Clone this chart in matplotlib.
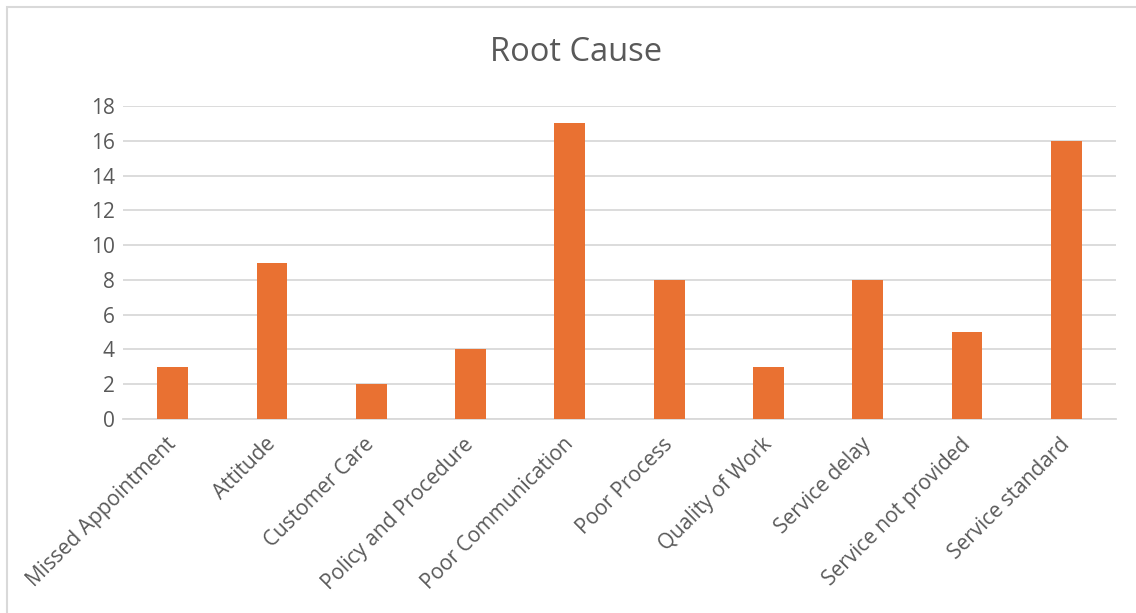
import matplotlib.pyplot as plt
from matplotlib.patches import Rectangle

categories = ["Missed Appointment", "Attitude", "Customer Care", "Policy and Procedure",
              "Poor Communication", "Poor Process", "Quality of Work", "Service delay",
              "Service not provided", "Service standard"]
counts = [3, 9, 2, 4, 17, 8, 3, 8, 5, 16]
y_ticks = [0, 2, 4, 6, 8, 10, 12, 14, 16, 18]

plt.rcParams['font.family'] = ['Open Sans', 'DejaVu Sans']
text_grey = '#595959'
grid_grey = '#D9D9D9'

fig = plt.figure(figsize=(11.36, 6.13), dpi=100)
ax = fig.add_axes([0.1083, 0.3165, 0.8741, 0.5105])

x = range(len(categories))
ax.bar(x, counts, width=0.31, color='#E97132', zorder=3)

ax.set_xlim(-0.5, len(categories) - 0.5)
ax.set_ylim(0, 18)
ax.set_yticks(y_ticks)
ax.set_yticklabels([str(v) for v in y_ticks], fontsize=15, color=text_grey)
ax.set_xticks(list(x))
ax.set_xticklabels(categories, rotation=45, ha='right', va='center', rotation_mode='anchor',
                   fontsize=15, color=text_grey)
ax.tick_params(axis='both', length=0)
ax.tick_params(axis='y', pad=6)
ax.tick_params(axis='x', pad=16)

ax.grid(axis='y', color=grid_grey, linewidth=1.3, zorder=0)
for side in ['top', 'right', 'left']:
    ax.spines[side].set_visible(False)
ax.spines['bottom'].set_color(grid_grey)
ax.spines['bottom'].set_linewidth(1.3)

fig.text(0.507, 0.915, "Root Cause", ha='center', va='center', fontsize=23.5, color=text_grey)

# chart border (only left and top edges fall inside the canvas)
fig.patches.append(Rectangle((7 / 1136, -0.1), 1.2, 1.1 - 7 / 613,
                             transform=fig.transFigure, fill=False,
                             edgecolor=grid_grey, linewidth=1.5))

fig.savefig('out.png', dpi=100)
